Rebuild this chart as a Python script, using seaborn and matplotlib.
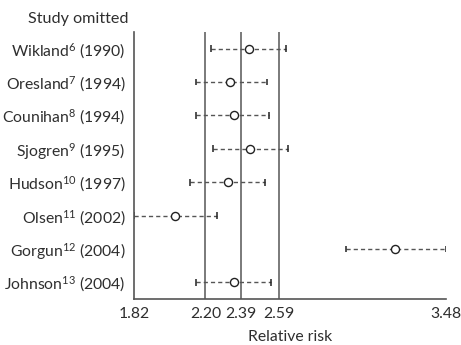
"""Forest plot: sensitivity analysis, one study omitted at a time."""
import matplotlib

matplotlib.use("Agg")
import matplotlib.pyplot as plt
import pandas as pd
import seaborn as sns

studies = [
    "Wikland$^{6}$ (1990)",
    "Oresland$^{7}$ (1994)",
    "Counihan$^{8}$ (1994)",
    "Sjogren$^{9}$ (1995)",
    "Hudson$^{10}$ (1997)",
    "Olsen$^{11}$ (2002)",
    "Gorgun$^{12}$ (2004)",
    "Johnson$^{13}$ (2004)",
]
rr = [2.43, 2.33, 2.35, 2.44, 2.32, 2.04, 3.21, 2.35]
lower = [2.23, 2.15, 2.15, 2.24, 2.12, 1.82, 2.95, 2.15]
upper = [2.63, 2.53, 2.54, 2.64, 2.52, 2.26, 3.48, 2.55]
ref_lines = [2.20, 2.39, 2.59]
x_ticks = [1.82, 2.20, 2.39, 2.59, 3.48]

sns.set_theme(style="white")
plt.rcParams["font.family"] = ["Lato", "DejaVu Sans"]
plt.rcParams["mathtext.fontset"] = "custom"
plt.rcParams["mathtext.rm"] = "Lato"
plt.rcParams["mathtext.it"] = "Lato"

FS = 11.3
TXT = "#2e2e2e"

df = pd.DataFrame({"study": studies, "rr": rr, "lower": lower, "upper": upper})
df["pos"] = range(len(df))

fig = plt.figure(figsize=(4.61, 3.45), dpi=100)
ax = fig.add_axes([0.2907, 0.1333, 0.676, 0.774])

for x in ref_lines:
    ax.axvline(x, color="#7a7a7a", linewidth=1.4, zorder=1)

ax.hlines(df["pos"], df["lower"], df["upper"], colors="#555555", linestyles=(0, (3.0, 2.2)),
          linewidth=1.0, zorder=2)
ax.vlines(df["lower"], df["pos"] - 0.1, df["pos"] + 0.1, colors="#222222", linewidth=1.1, zorder=2)
ax.vlines(df["upper"], df["pos"] - 0.1, df["pos"] + 0.1, colors="#222222", linewidth=1.1, zorder=2)

sns.scatterplot(data=df, x="rr", y="pos", ax=ax, marker="o", s=34, facecolor="white",
                edgecolor="#222222", linewidth=1.0, zorder=3, legend=False)

ax.set_xlim(1.82, 3.48)
ax.set_ylim(7.5, -0.5)
ax.set_xticks(x_ticks)
ax.set_xticklabels([f"{t:.2f}" for t in x_ticks])
ax.set_yticks(df["pos"])
ax.set_yticklabels(df["study"])
ax.tick_params(axis="x", direction="in", length=4, width=1, color="#555555", labelsize=FS,
               labelcolor=TXT, pad=6)
ax.tick_params(axis="y", length=0, labelsize=FS, labelcolor=TXT, pad=6)
ax.set_xlabel("Relative risk", fontsize=FS, color=TXT, labelpad=6)
ax.set_ylabel("")

sns.despine(ax=ax, top=True, right=True)
for side in ["left", "bottom"]:
    ax.spines[side].set_color("#555555")
    ax.spines[side].set_linewidth(1.2)

fig.text(0.278, 0.945, "Study omitted", ha="right", va="center", fontsize=FS + 0.3, color=TXT)

fig.savefig("out.png", dpi=100)
